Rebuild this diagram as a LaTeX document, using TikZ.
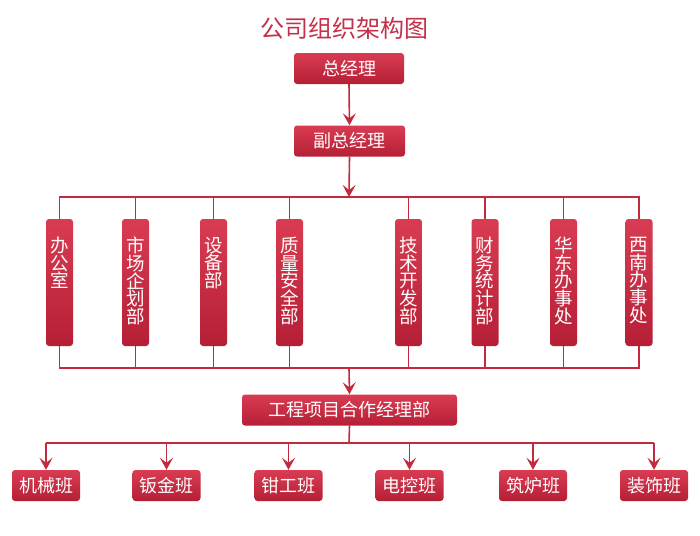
\documentclass[tikz,border=0pt]{standalone}
\usepackage{fontspec}
\setmainfont{Noto Sans CJK SC}
\usetikzlibrary{arrows.meta}
\definecolor{lr}{HTML}{C22A3E}
\definecolor{ttl}{HTML}{C5304A}
\definecolor{btop}{HTML}{D93C52}
\definecolor{bbot}{HTML}{B51F36}
\begin{document}
\begin{tikzpicture}[x=1pt,y=-1pt,
  box/.style={rounded corners=3pt, top color=btop, bottom color=bbot, draw=none, text=white, inner sep=0pt},
  hbox/.style={box, minimum width=#1, minimum height=31pt, font=\fontsize{18}{18}\selectfont},
  vbox/.style={box, minimum width=27pt, minimum height=127pt},
  vtext/.style={text=white, font=\fontsize{18.5}{17.7}\selectfont, align=center, anchor=north, inner sep=0pt},
  conn/.style={draw=lr, line width=1.6pt},
  arr/.style={conn, -{Stealth[length=12pt,width=13pt,inset=5pt]}}
]
\useasboundingbox[fill=white] (0,0) rectangle (700,535);
\node[font=\fontsize{24}{24}\selectfont, text=ttl] (title) at (344,28) {公司组织架构图};
\node[hbox=110pt] (gm) at (349,68.5) {总经理};
\node[hbox=111pt] (vgm) at (349.5,141) {副总经理};
\coordinate (bus1) at (349,197);
\coordinate (bus2) at (349,368);
\coordinate (bus3) at (349,443);
\foreach \n/\x/\t in {1/59.5/{办\\公\\室},2/135.5/{市\\场\\企\\划\\部},3/213.5/{设\\备\\部},4/289.5/{质\\量\\安\\全\\部},5/408.5/{技\\术\\开\\发\\部},6/485/{财\\务\\统\\计\\部},7/563.5/{华\\东\\办\\事\\处},8/639/{西\\南\\办\\事\\处}}{
  \node[vbox] (d\n) at (\x,282.5) {};
  \node[vtext] (t\n) at ([yshift=-18pt]d\n.north) {\t};
}
\node[hbox=215pt] (proj) at (349.5,410) {工程项目合作经理部};
\foreach \n/\x/\t in {1/46/机械班,2/166.5/钣金班,3/288.5/钳工班,4/409.5/电控班,5/533/筑炉班,6/654/装饰班}{
  \node[hbox=68pt] (w\n) at (\x,485.5) {\t};
}
% connectors
\draw[arr] (gm.south) -- (vgm.north);
\draw[arr] (vgm.south) -- (bus1);
\draw[conn] (d1.north) -- (d1.north |- bus1) -- (d8.north |- bus1) -- (d8.north);
\draw[conn] (d1.south) -- (d1.south |- bus2) -- (d8.south |- bus2) -- (d8.south);
\foreach \n in {2,...,7}{
  \draw[conn] (d\n.north) -- (d\n.north |- bus1);
  \draw[conn] (d\n.south) -- (d\n.south |- bus2);
}
\draw[arr] (bus2) -- (proj.north);
\draw[conn] (proj.south) -- (bus3);
\draw[conn] (w1.north |- bus3) -- (w6.north |- bus3);
\foreach \n in {1,...,6}{
  \draw[arr] (w\n.north |- bus3) -- (w\n.north);
}
\end{tikzpicture}
\end{document}
